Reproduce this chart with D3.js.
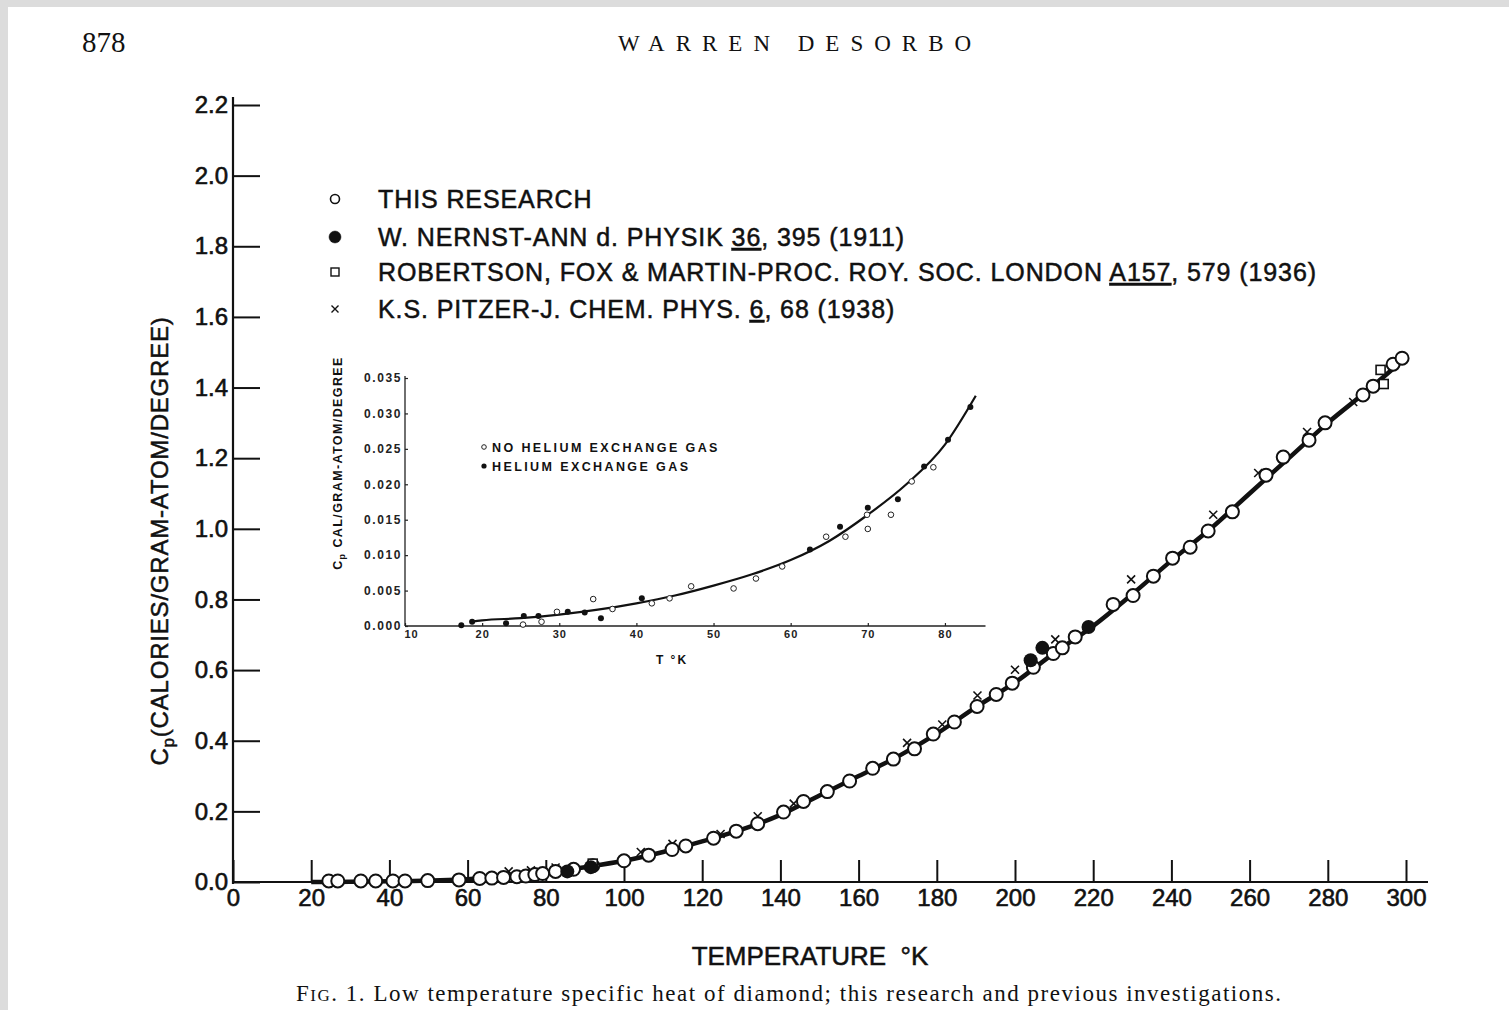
<!DOCTYPE html>
<html>
<head>
<meta charset="utf-8">
<script src="https://cdn.jsdelivr.net/npm/d3@7"></script>
<style>
  body { margin: 0; background: #fff; }
  svg { display: block; }
  .sans { font-family: "Liberation Sans", Arial, sans-serif; fill: #111; }
  .serif { font-family: "Liberation Serif", "Times New Roman", serif; fill: #111; }
  .main-axis path { display: none; }
  .main-axis line { stroke: #111; stroke-width: 2; }
  .inset-axis path { display: none; }
  .inset-axis line { stroke: #222; stroke-width: 1.2; }
</style>
</head>
<body>
<div id="chart"></div>
<script>
// Main chart: Cp of diamond vs temperature
var thisResearch = [
  [24.5, 0.003], [26.8, 0.003], [32.7, 0.003], [36.5, 0.003], [40.9, 0.003],
  [44, 0.003], [49.8, 0.004], [57.8, 0.006], [63.1, 0.010], [66.2, 0.011],
  [69.2, 0.013], [72.6, 0.015], [74.9, 0.017], [77.2, 0.021], [79.2, 0.024],
  [82.5, 0.030], [87.1, 0.036], [92, 0.046], [100, 0.060], [106.3, 0.076],
  [112.3, 0.092], [115.8, 0.102], [122.9, 0.124], [128.7, 0.144], [134.2, 0.165],
  [140.8, 0.198], [145.9, 0.228], [152, 0.256], [157.7, 0.286], [163.6, 0.322],
  [168.9, 0.348], [174.3, 0.377], [179.1, 0.419], [184.5, 0.453], [190.3, 0.497],
  [195.2, 0.531], [199.3, 0.563], [204.7, 0.608], [209.8, 0.647], [212.1, 0.663],
  [215.4, 0.694], [225.1, 0.786], [230.2, 0.811], [235.4, 0.866], [240.3, 0.917],
  [244.8, 0.948], [249.4, 0.994], [255.6, 1.048], [264.2, 1.152], [268.6, 1.203],
  [275.2, 1.251], [279.3, 1.300], [289, 1.379], [291.6, 1.404], [296.7, 1.466],
  [299, 1.483]
];
var nernst = [[85.5, 0.030], [91.5, 0.042], [204, 0.628], [207, 0.663], [218.8, 0.722]];
var robertson = [[92, 0.052], [293.5, 1.45], [294.3, 1.41]];
var pitzer = [
  [70.5, 0.030], [76.2, 0.033], [82.5, 0.041], [104.3, 0.085], [112.4, 0.108],
  [124.7, 0.136], [134.2, 0.186], [143.4, 0.222], [172.4, 0.394], [181.4, 0.446],
  [190.4, 0.528], [200, 0.601], [210.3, 0.687], [229.7, 0.857], [250.7, 1.040],
  [262.2, 1.158], [274.7, 1.274], [286.5, 1.359]
];
var mainCurve = [
  [20, 0.0], [40, 0.002], [60, 0.008], [70, 0.016], [80, 0.027], [90, 0.042],
  [100, 0.060], [110, 0.085], [120, 0.115], [130, 0.148], [140, 0.190],
  [150, 0.245], [160, 0.300], [170, 0.355], [180, 0.420], [190, 0.495],
  [200, 0.565], [210, 0.648], [220, 0.725], [230, 0.815], [240, 0.910],
  [250, 1.000], [260, 1.100], [270, 1.200], [280, 1.300], [290, 1.390], [300, 1.485]
];
var xTicks = d3.range(0, 301, 20);
var yTicks = d3.range(0, 2.21, 0.2);

// Inset: below 85 K
var noHelium = [
  [25.3, 0.0002], [27.7, 0.0006], [29.7, 0.0020], [34.4, 0.0038], [36.9, 0.0024],
  [42, 0.0032], [44.3, 0.0039], [47.1, 0.0056], [52.6, 0.0053], [55.5, 0.0067],
  [58.9, 0.0084], [64.6, 0.0126], [67.1, 0.0126], [70, 0.0137], [69.9, 0.0157],
  [73, 0.0157], [75.7, 0.0204], [78.5, 0.0224]
];
var withHelium = [
  [17.3, 0.0001], [18.7, 0.0006], [23.1, 0.0004], [25.4, 0.0014], [27.3, 0.0014],
  [31.1, 0.0020], [33.3, 0.0019], [35.4, 0.0011], [40.7, 0.0039], [62.5, 0.0108],
  [66.4, 0.0140], [70, 0.0167], [73.9, 0.0179], [77.3, 0.0225], [80.4, 0.0263],
  [83.3, 0.0309]
];
var insetCurve = [
  [18.5, 0.0006], [20, 0.0008], [25, 0.0011], [30, 0.0016], [35, 0.0023],
  [40, 0.0032], [45, 0.0043], [50, 0.0057], [55, 0.0073], [60, 0.0093],
  [65, 0.0120], [70, 0.0157], [75, 0.0200], [80, 0.0256], [84, 0.0325]
];
var insetXTicks = d3.range(10, 81, 10);
var insetYTicks = d3.range(0, 0.0351, 0.005);

var width = 1509, height = 1010;

var svg = d3.select("#chart").append("svg")
  .attr("width", width)
  .attr("height", height);

// page edges
svg.append("rect").attr("width", width).attr("height", height).attr("fill", "#fff");
svg.append("rect").attr("width", width).attr("height", 7).attr("fill", "#dcdcdc");
svg.append("rect").attr("width", 8).attr("height", height).attr("fill", "#dcdcdc");

// running head
svg.append("text").attr("class", "serif")
  .attr("x", 82).attr("y", 52)
  .style("font-size", "29px")
  .text("878");
svg.append("text").attr("class", "serif")
  .attr("x", 800).attr("y", 51)
  .attr("text-anchor", "middle")
  .style("font-size", "23px")
  .style("letter-spacing", "11px")
  .text("WARREN DESORBO");

// ---- main chart ----
var x = d3.scaleLinear().domain([0, 300]).range([233, 1406]);
var y = d3.scaleLinear().domain([0, 2.2]).range([882, 105]);

var main = svg.append("g");

// axes lines
main.append("line")
  .attr("x1", x(0)).attr("x2", x(0))
  .attr("y1", y(2.2) - 8).attr("y2", y(0) + 2)
  .attr("stroke", "#111").attr("stroke-width", 2.2);
main.append("line")
  .attr("x1", x(0)).attr("x2", 1428)
  .attr("y1", y(0)).attr("y2", y(0))
  .attr("stroke", "#111").attr("stroke-width", 2.2);

var yAxis = main.append("g")
  .attr("class", "main-axis sans")
  .attr("transform", "translate(" + x(0) + ",0)")
  .call(d3.axisLeft(y).tickValues(yTicks).tickSizeInner(-27).tickSizeOuter(0)
    .tickPadding(5).tickFormat(d3.format(".1f")));
yAxis.selectAll("text")
  .style("font-size", "24px").style("fill", "#111")
  .style("stroke", "#111").style("stroke-width", 0.6);

var xAxis = main.append("g")
  .attr("class", "main-axis sans")
  .attr("transform", "translate(0," + y(0) + ")")
  .call(d3.axisBottom(x).tickValues(xTicks).tickSizeInner(-22).tickSizeOuter(0)
    .tickPadding(7).tickFormat(d3.format("d")));
xAxis.selectAll("text")
  .style("font-size", "24px").style("fill", "#111")
  .style("stroke", "#111").style("stroke-width", 0.6);

// axis titles
var yTitle = main.append("text").attr("class", "sans")
  .attr("transform", "translate(168,541) rotate(-90)")
  .attr("text-anchor", "middle")
  .style("font-size", "24px").style("letter-spacing", "0.8px")
  .style("stroke", "#111").style("stroke-width", 0.5);
yTitle.append("tspan").text("C");
yTitle.append("tspan").attr("dy", 6).style("font-size", "17px").text("p");
yTitle.append("tspan").attr("dy", -6).text("(CALORIES/GRAM-ATOM/DEGREE)");

main.append("text").attr("class", "sans")
  .attr("x", 810).attr("y", 965)
  .attr("text-anchor", "middle")
  .style("font-size", "26px")
  .style("stroke", "#111").style("stroke-width", 0.5)
  .text("TEMPERATURE \u00a0\u00b0K");

// curve
var line = d3.line()
  .x(function(d) { return x(d[0]); })
  .y(function(d) { return y(d[1]); })
  .curve(d3.curveMonotoneX);

main.append("path")
  .datum(mainCurve)
  .attr("d", line)
  .attr("fill", "none")
  .attr("stroke", "#111")
  .attr("stroke-width", 4.5);

// Pitzer crosses
main.selectAll(".pitzer")
  .data(pitzer)
  .enter()
  .append("path")
  .attr("class", "pitzer")
  .attr("transform", function(d) { return "translate(" + x(d[0]) + "," + y(d[1]) + ")"; })
  .attr("d", "M-4,-4L4,4M4,-4L-4,4")
  .attr("stroke", "#111")
  .attr("stroke-width", 1.6);

// this research: open circles
main.selectAll(".research")
  .data(thisResearch)
  .enter()
  .append("circle")
  .attr("class", "research")
  .attr("cx", function(d) { return x(d[0]); })
  .attr("cy", function(d) { return y(d[1]); })
  .attr("r", 6.5)
  .attr("fill", "#fff")
  .attr("stroke", "#111")
  .attr("stroke-width", 2);

// Robertson squares
main.selectAll(".robertson")
  .data(robertson)
  .enter()
  .append("rect")
  .attr("class", "robertson")
  .attr("x", function(d) { return x(d[0]) - 4.5; })
  .attr("y", function(d) { return y(d[1]) - 4.5; })
  .attr("width", 9).attr("height", 9)
  .attr("fill", "#fff")
  .attr("stroke", "#111")
  .attr("stroke-width", 1.6);

// Nernst filled circles
main.selectAll(".nernst")
  .data(nernst)
  .enter()
  .append("circle")
  .attr("class", "nernst")
  .attr("cx", function(d) { return x(d[0]); })
  .attr("cy", function(d) { return y(d[1]); })
  .attr("r", 7)
  .attr("fill", "#111");

// legend
var legend = main.append("g").attr("class", "sans")
  .style("font-size", "25px").style("letter-spacing", "0.9px")
  .style("stroke", "#111").style("stroke-width", 0.5);
var rows = [199, 237, 272, 309];
legend.append("circle").attr("cx", 335).attr("cy", rows[0]).attr("r", 4.5)
  .attr("fill", "#fff").attr("stroke", "#111").attr("stroke-width", 1.6);
legend.append("circle").attr("cx", 335).attr("cy", rows[1]).attr("r", 6).attr("fill", "#111");
legend.append("rect").attr("x", 331).attr("y", rows[2] - 4).attr("width", 8).attr("height", 8)
  .attr("fill", "#fff").attr("stroke", "#111").attr("stroke-width", 1.4);
legend.append("path").attr("transform", "translate(335," + rows[3] + ")")
  .attr("d", "M-3.5,-3.5L3.5,3.5M3.5,-3.5L-3.5,3.5")
  .attr("stroke", "#111").attr("stroke-width", 1.4);

function legendRow(yy, parts) {
  var t = legend.append("text").attr("x", 378).attr("y", yy + 9);
  parts.forEach(function(p) {
    var s = t.append("tspan").text(p[0]);
    if (p[1]) s.style("text-decoration", "underline");
  });
}
legendRow(rows[0], [["THIS RESEARCH"]]);
legendRow(rows[1], [["W. NERNST-ANN d. PHYSIK "], ["36", true], [", 395 (1911)"]]);
legendRow(rows[2], [["ROBERTSON, FOX & MARTIN-PROC. ROY. SOC. LONDON "], ["A157", true], [", 579 (1936)"]]);
legendRow(rows[3], [["K.S. PITZER-J. CHEM. PHYS. "], ["6", true], [", 68  (1938)"]]);

// ---- inset ----
var xi = d3.scaleLinear().domain([10, 85]).range([405, 983.5]);
var yi = d3.scaleLinear().domain([0, 0.035]).range([626, 378]);

var inset = svg.append("g");

inset.append("line")
  .attr("x1", xi(10)).attr("x2", xi(10))
  .attr("y1", yi(0.035) - 2).attr("y2", yi(0))
  .attr("stroke", "#222").attr("stroke-width", 1.3);
inset.append("line")
  .attr("x1", xi(10)).attr("x2", xi(85) + 2)
  .attr("y1", yi(0)).attr("y2", yi(0))
  .attr("stroke", "#222").attr("stroke-width", 1.3);

var yiAxis = inset.append("g")
  .attr("class", "inset-axis sans")
  .attr("transform", "translate(" + xi(10) + ",0)")
  .call(d3.axisLeft(yi).tickValues(insetYTicks).tickSizeInner(-3).tickSizeOuter(0)
    .tickPadding(3).tickFormat(d3.format(".3f")));
yiAxis.selectAll("text")
  .style("font-size", "12px").style("font-weight", "bold")
  .style("letter-spacing", "1.6px").style("fill", "#222");

var xiAxis = inset.append("g")
  .attr("class", "inset-axis sans")
  .attr("transform", "translate(0," + yi(0) + ")")
  .call(d3.axisBottom(xi).tickValues(insetXTicks).tickSizeInner(-3).tickSizeOuter(0)
    .tickPadding(4).tickFormat(d3.format("d")));
xiAxis.selectAll("text")
  .style("font-size", "11px").style("font-weight", "bold")
  .style("letter-spacing", "1px").style("fill", "#222");
// the "10" label sits just right of the y axis, as in the print
xiAxis.selectAll(".tick").filter(function(d) { return d === 10; })
  .select("text").attr("x", 6);

var yiTitle = inset.append("text").attr("class", "sans")
  .attr("transform", "translate(342,463) rotate(-90)")
  .attr("text-anchor", "middle")
  .style("font-size", "12.5px").style("font-weight", "bold")
  .style("letter-spacing", "1.4px");
yiTitle.append("tspan").text("C");
yiTitle.append("tspan").attr("dy", 3).style("font-size", "9px").text("p");
yiTitle.append("tspan").attr("dy", -3).text(" CAL/GRAM-ATOM/DEGREE");

inset.append("text").attr("class", "sans")
  .attr("x", 672).attr("y", 664)
  .attr("text-anchor", "middle")
  .style("font-size", "12px").style("font-weight", "bold")
  .style("letter-spacing", "2px")
  .text("T \u00b0K");

var iline = d3.line()
  .x(function(d) { return xi(d[0]); })
  .y(function(d) { return yi(d[1]); })
  .curve(d3.curveMonotoneX);

inset.append("path")
  .datum(insetCurve)
  .attr("d", iline)
  .attr("fill", "none")
  .attr("stroke", "#111")
  .attr("stroke-width", 2.2);

inset.selectAll(".nohe")
  .data(noHelium)
  .enter()
  .append("circle")
  .attr("class", "nohe")
  .attr("cx", function(d) { return xi(d[0]); })
  .attr("cy", function(d) { return yi(d[1]); })
  .attr("r", 2.8)
  .attr("fill", "#fff")
  .attr("stroke", "#222")
  .attr("stroke-width", 1);

inset.selectAll(".he")
  .data(withHelium)
  .enter()
  .append("circle")
  .attr("class", "he")
  .attr("cx", function(d) { return xi(d[0]); })
  .attr("cy", function(d) { return yi(d[1]); })
  .attr("r", 3)
  .attr("fill", "#111");

// inset legend
inset.append("circle").attr("cx", 484).attr("cy", 447).attr("r", 2.3)
  .attr("fill", "#fff").attr("stroke", "#222").attr("stroke-width", 1);
inset.append("circle").attr("cx", 484).attr("cy", 466).attr("r", 2.6).attr("fill", "#111");
inset.append("text").attr("class", "sans")
  .attr("x", 492).attr("y", 452)
  .style("font-size", "12.5px").style("font-weight", "bold").style("letter-spacing", "2.4px")
  .text("NO HELIUM EXCHANGE GAS");
inset.append("text").attr("class", "sans")
  .attr("x", 492).attr("y", 471)
  .style("font-size", "12.5px").style("font-weight", "bold").style("letter-spacing", "2.4px")
  .text("HELIUM EXCHANGE GAS");

// caption
var cap = svg.append("text").attr("class", "serif")
  .attr("x", 296).attr("y", 1001)
  .attr("textLength", 985)
  .attr("lengthAdjust", "spacing")
  .style("font-size", "23px");
cap.append("tspan").text("F");
cap.append("tspan").style("font-size", "17px").text("IG");
cap.append("tspan").text(". 1. Low temperature specific heat of diamond; this research and previous investigations.");
</script>
</body>
</html>
